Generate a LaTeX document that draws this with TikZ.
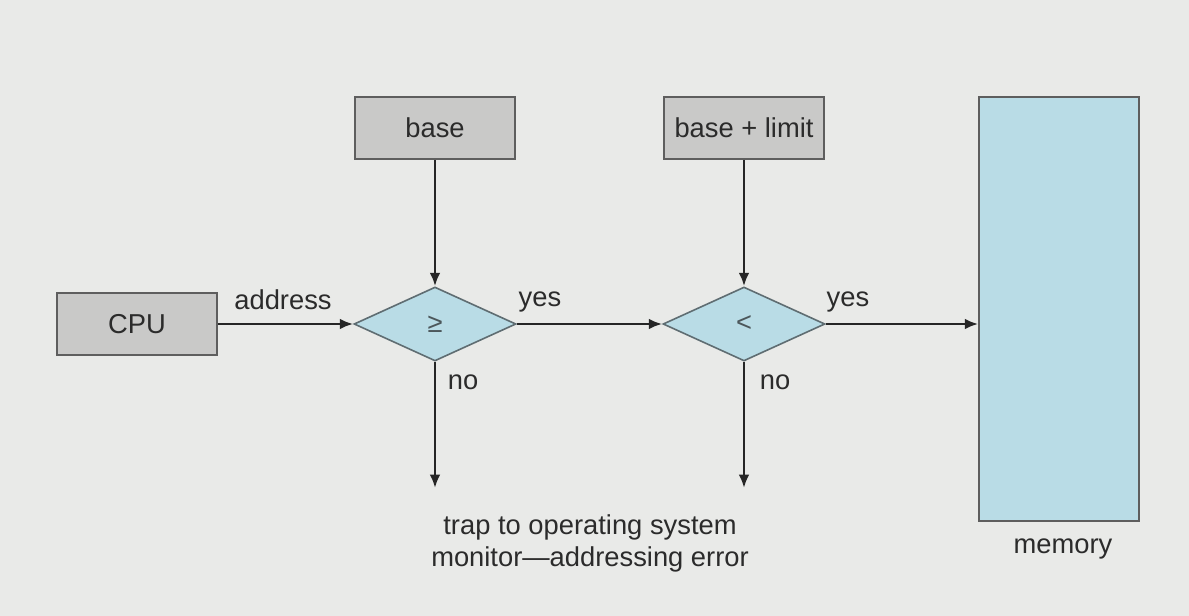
\documentclass[tikz,border=0pt]{standalone}
\usepackage{fontspec}
\setmainfont{Liberation Sans}
\usetikzlibrary{shapes.geometric,arrows.meta}
\definecolor{bg}{HTML}{E9EAE8}
\definecolor{boxfill}{HTML}{C9C9C8}
\definecolor{boxline}{HTML}{5E5E5E}
\definecolor{bluefill}{HTML}{B9DCE6}
\definecolor{blueline}{HTML}{5F6D72}
\definecolor{txt}{HTML}{2B2B2B}
\begin{document}
\begin{tikzpicture}[x=0.75pt,y=-0.75pt,
  every node/.style={font=\fontsize{20.5}{24}\selectfont, text=txt},
  graybox/.style={draw=boxline, fill=boxfill, line width=1.2pt, minimum width=120pt, minimum height=46.5pt, inner sep=0pt},
  decision/.style={diamond, draw=blueline, fill=bluefill, line width=1.2pt, minimum width=121.5pt, minimum height=55.5pt, inner sep=0pt},
  conn/.style={draw=black!85, line width=1.9pt, -{Latex[length=10pt,width=8pt]}},
  lbl/.style={inner sep=0pt}
]
\fill[bg] (0,0) rectangle (1189,616);
\node[graybox] (cpu) at (137,324) {CPU};
\node[graybox] (base) at (435,128) {base};
\node[graybox] (limit) at (744,128) {base + limit};
\node[draw=boxline, fill=bluefill, line width=1.2pt, minimum width=120pt, minimum height=318pt, inner sep=0pt] (mem) at (1059,309) {};
\node[decision] (ge) at (435,324) {\textcolor{blueline!80!black}{≥}};
\node[decision] (lt) at (744,324) {\textcolor{blueline!80!black}{<}};
\coordinate (trap1) at (435,488);
\coordinate (trap2) at (744,488);
\draw[conn] (cpu.east) -- (ge.west);
\draw[conn] (base.south) -- (ge.north);
\draw[conn] (limit.south) -- (lt.north);
\draw[conn] (ge.east) -- (lt.west);
\draw[conn] (lt.east) -- (mem.west |- lt.east);
\draw[conn] (ge.south) -- (trap1);
\draw[conn] (lt.south) -- (trap2);
\node[lbl] (addr) at (283,300) {address};
\node[lbl] (yes1) at (540,302) {yes};
\node[lbl] (yes2) at (848,302) {yes};
\node[lbl] (no1) at (463,382) {no};
\node[lbl] (no2) at (775,382) {no};
\node[lbl, align=center] (trap) at (590,543) {trap to operating system\\monitor—addressing error};
\node[lbl] (memlbl) at (1063,549) {memory};
\end{tikzpicture}
\end{document}
